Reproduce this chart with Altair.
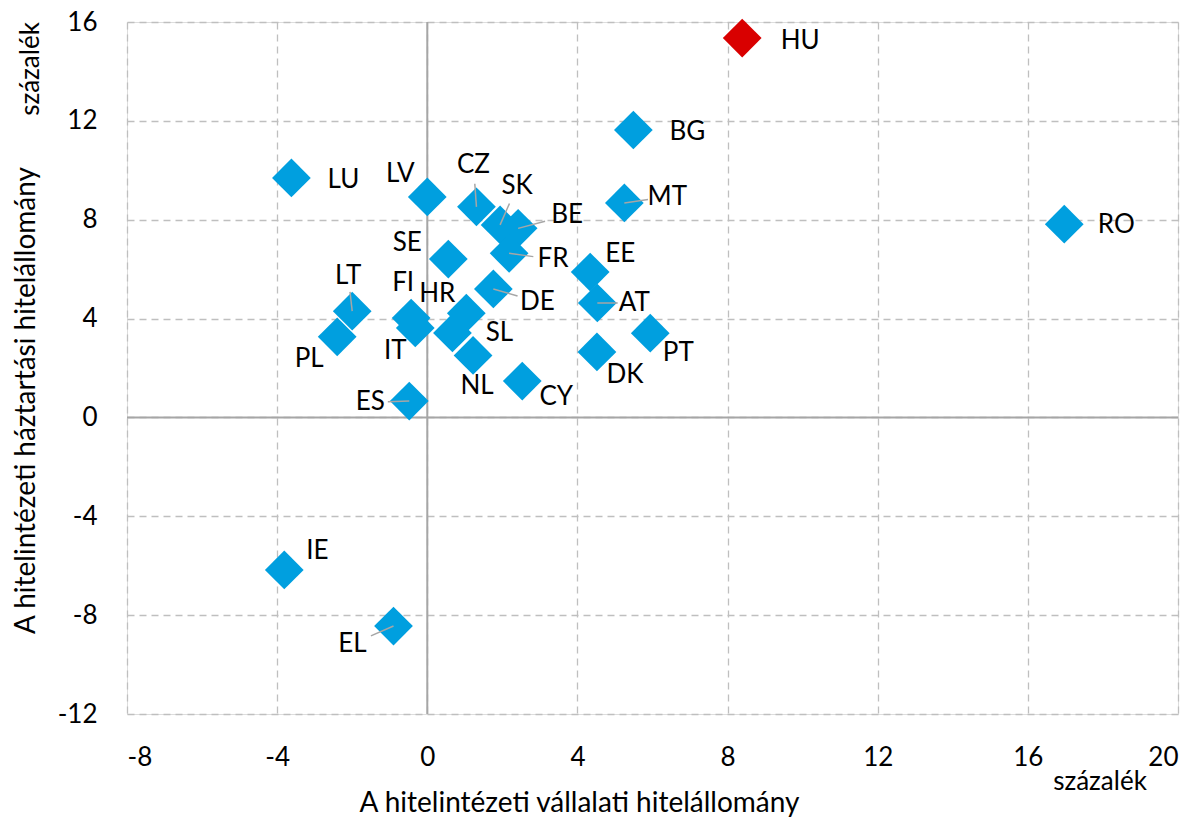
import altair as alt
import pandas as pd

countries = ["HU", "BG", "LU", "LV", "CZ", "SK", "BE", "MT", "RO", "SE", "FR", "EE", "AT", "DE",
             "LT", "FI", "HR", "SL", "IT", "PL", "NL", "CY", "DK", "PT", "ES", "IE", "EL"]
corporate = [8.39, 5.49, -3.62, 0.0, 1.31, 1.94, 2.42, 5.25, 16.97, 0.56, 2.18, 4.34, 4.53, 1.76,
             -2.0, -0.43, 1.04, 0.67, -0.32, -2.4, 1.22, 2.53, 4.52, 5.94, -0.48, -3.81, -0.9]
household = [15.35, 11.63, 9.69, 8.92, 8.52, 7.79, 7.65, 8.68, 7.82, 6.41, 6.64, 5.88, 4.63, 5.2,
             4.3, 4.02, 4.22, 3.42, 3.62, 3.26, 2.51, 1.47, 2.65, 3.41, 0.66, -6.17, -8.44]

x_ticks = [-8, -4, 0, 4, 8, 12, 16, 20]
y_ticks = [-12, -8, -4, 0, 4, 8, 12, 16]

x_title = "A hitelintézeti vállalati hitelállomány"
y_title = "A hitelintézeti háztartási hitelállomány"
unit = "százalék"

# label offsets (pixels) relative to the marker, style only
label_offsets = {
    "HU": (58, 3), "BG": (54, 2), "LU": (52, 2), "LV": (-27, -23), "CZ": (-3, -42),
    "SK": (17, -39), "BE": (49, -13), "MT": (43, -6), "RO": (52, 1), "SE": (-41, -16),
    "FR": (44, 6), "EE": (30, -18), "AT": (37, 0), "DE": (44, 13), "LT": (-4, -35),
    "FI": (-8, -35), "HR": (-29, -19), "SL": (47, 0), "IT": (-20, 23), "PL": (-28, 22),
    "NL": (4, 31), "CY": (34, 16), "DK": (28, 23), "PT": (28, 20), "ES": (-39, 1),
    "IE": (33, -19), "EL": (-41, 18),
}
leaders = ["CZ", "SK", "BE", "MT", "FR", "AT", "DE", "LT", "ES", "EL"]

W, H = 1051, 692
XMIN, XMAX, YMIN, YMAX = -8, 20, -12, 16
px_x = W / (XMAX - XMIN)
px_y = H / (YMAX - YMIN)

df = pd.DataFrame({"country": countries, "corp": corporate, "hh": household})
df["group"] = ["HU" if c == "HU" else "other" for c in countries]
df["lx"] = [x + label_offsets[c][0] / px_x for c, x in zip(countries, corporate)]
df["ly"] = [y - label_offsets[c][1] / px_y for c, y in zip(countries, household)]

ld = df[df["country"].isin(leaders)].copy()
ld["ex"] = [x + 0.55 * label_offsets[c][0] / px_x for c, x in zip(ld["country"], ld["corp"])]
ld["ey"] = [y - 0.55 * label_offsets[c][1] / px_y for c, y in zip(ld["country"], ld["hh"])]

FONT = "Lato"
LABEL_SIZE = 26

xscale = alt.Scale(domain=[XMIN, XMAX], nice=False, zero=False)
yscale = alt.Scale(domain=[YMIN, YMAX], nice=False, zero=False)

xaxis = alt.Axis(values=x_ticks, title=x_title, grid=True, ticks=False, domain=False,
                 labelExpr="toString(datum.value)",
                 labelPadding=30, labelFontSize=LABEL_SIZE, labelFont=FONT, labelColor="#000000",
                 titleFont=FONT, titleFontSize=28, titleFontWeight="normal", titleColor="#000000",
                 titleX=452, titleY=89, titleBaseline="middle", titleAlign="center",
                 gridColor="#BFBFBF", gridDash=[7, 5], gridWidth=1.3)
yaxis = alt.Axis(values=y_ticks, title=y_title, grid=True, ticks=False, domain=False,
                 labelExpr="toString(datum.value)",
                 labelPadding=30, labelFontSize=LABEL_SIZE, labelFont=FONT, labelColor="#000000",
                 titleFont=FONT, titleFontSize=28, titleFontWeight="normal", titleColor="#000000",
                 titleX=-101, titleY=378, titleAngle=-90, titleBaseline="middle", titleAlign="center",
                 gridColor="#BFBFBF", gridDash=[7, 5], gridWidth=1.3)

base = alt.Chart(df)

zero_df = pd.DataFrame({"v": [0]})
vzero = alt.Chart(zero_df).mark_rule(color="#A6A6A6", strokeWidth=2).encode(
    x=alt.X("v:Q", scale=xscale, axis=xaxis))
hzero = alt.Chart(zero_df).mark_rule(color="#A6A6A6", strokeWidth=2).encode(
    y=alt.Y("v:Q", scale=yscale, axis=yaxis))

points = base.mark_point(shape="diamond", filled=True, size=1500, opacity=1).encode(
    x=alt.X("corp:Q", scale=xscale, axis=xaxis),
    y=alt.Y("hh:Q", scale=yscale, axis=yaxis),
    color=alt.Color("group:N", scale=alt.Scale(domain=["other", "HU"], range=["#009FDF", "#D90000"]),
                    legend=None),
)

lead = alt.Chart(ld).mark_rule(color="#A6A6A6", strokeWidth=1.5).encode(
    x=alt.X("corp:Q", scale=xscale), y=alt.Y("hh:Q", scale=yscale),
    x2="ex:Q", y2="ey:Q")

labels = base.mark_text(font=FONT, fontSize=LABEL_SIZE, color="#000000", align="center",
                        baseline="middle").encode(
    x=alt.X("lx:Q", scale=xscale), y=alt.Y("ly:Q", scale=yscale), text="country:N")

unit_df = pd.DataFrame({"t": [unit]})
unit_x = alt.Chart(unit_df).mark_text(font=FONT, fontSize=LABEL_SIZE, color="#000000", align="center",
                                      baseline="middle").encode(
    x=alt.value(973), y=alt.value(760), text="t:N")
unit_y = alt.Chart(unit_df).mark_text(font=FONT, fontSize=LABEL_SIZE, color="#000000", align="center",
                                      baseline="middle", angle=270).encode(
    x=alt.value(-96), y=alt.value(47), text="t:N")

chart = alt.layer(vzero, hzero, points, lead, labels, unit_x, unit_y).properties(
    width=W, height=H,
    autosize=alt.AutoSizeParams(type="none"),
    padding={"left": 119, "top": 14, "right": 16, "bottom": 104},
).configure_view(stroke="#A6A6A6", strokeWidth=2).configure(background="#FFFFFF")

chart.save("out.html", embed_options={"renderer": "svg", "actions": False})
